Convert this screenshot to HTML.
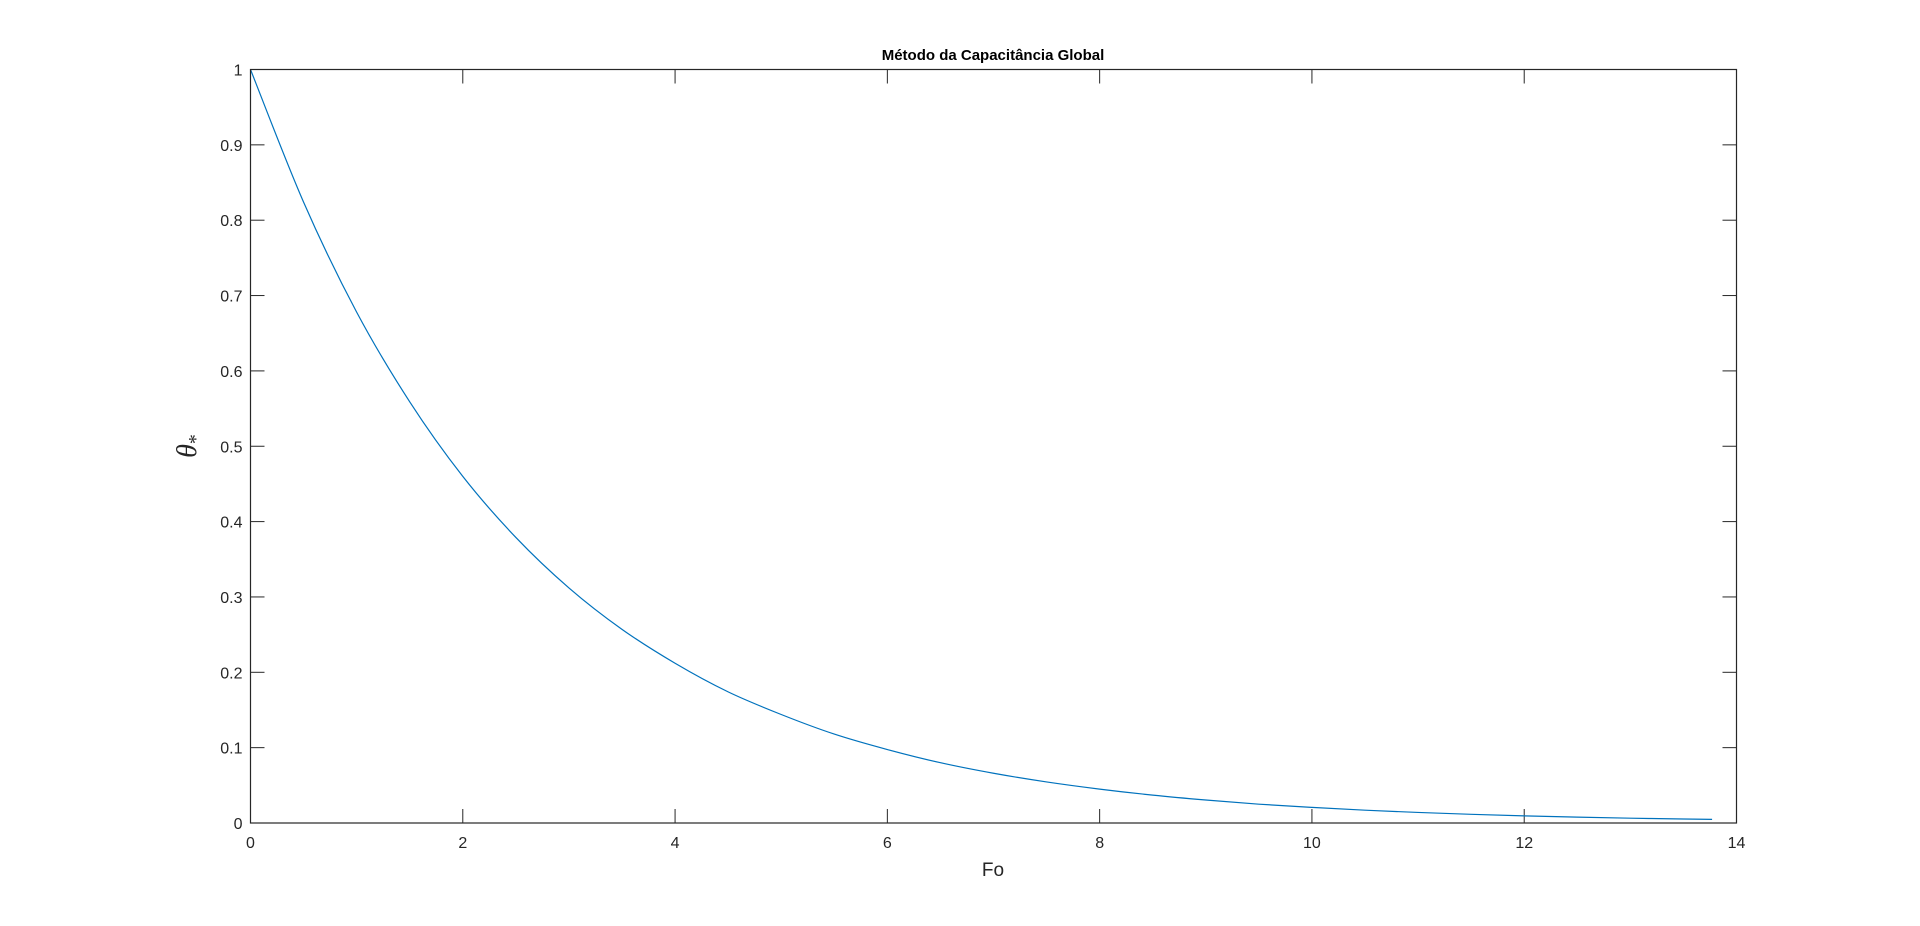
<!DOCTYPE html>
<html><head><meta charset="utf-8"><style>
html,body{margin:0;padding:0;background:#fff;}
svg{display:block;font-family:"Liberation Sans",Arial,sans-serif;}
</style></head><body>
<svg id="chart" width="1920" height="926" viewBox="0 0 1920 926">
<rect x="0" y="0" width="1920" height="926" fill="#fff"/>
<text x="993" y="60" text-anchor="middle" font-size="15" font-weight="bold" fill="#000">Método da Capacitância Global</text>
<g id="ticks"></g>
<path id="curve" fill="none" stroke="#0072BD" stroke-width="1.2"/>
<rect x="250.5" y="69.5" width="1486" height="753.5" fill="none" stroke="#262626" stroke-width="1.2"/>
<text x="993" y="876" text-anchor="middle" font-size="19" fill="#262626">Fo</text>
<g transform="translate(196,446) rotate(-90)">
<text x="0" y="0" text-anchor="middle" font-family="Liberation Serif,serif" font-style="italic" font-size="28" fill="#262626">θ<tspan font-size="20" font-style="normal" dy="6">*</tspan></text>
</g>
</svg>
<script>
const fo = [0,0.5,1,1.5,2,2.5,3,3.5,4,4.5,5,5.5,6,6.5,7,7.5,8,8.5,9,9.5,10,10.5,11,11.5,12,12.5,13,13.5,13.77];
const theta = [1,0.824,0.678,0.559,0.460,0.379,0.312,0.257,0.212,0.174,0.144,0.118,0.0975,0.080,0.066,0.0545,0.045,0.037,0.0305,0.025,0.0207,0.017,0.014,0.0115,0.0095,0.0078,0.0064,0.0053,0.0048];
const xTicks = [0,2,4,6,8,10,12,14];
const yTicks = [0,0.1,0.2,0.3,0.4,0.5,0.6,0.7,0.8,0.9,1];
const yTickLabels = ["0","0.1","0.2","0.3","0.4","0.5","0.6","0.7","0.8","0.9","1"];
const X0=250.5,X1=1736.5,Y0=823,Y1=69.5;
const sx=v=>X0+(v-0)/(14-0)*(X1-X0);
const sy=v=>Y0-(v-0)/(1-0)*(Y0-Y1);
const NS="http://www.w3.org/2000/svg";
const g=document.getElementById('ticks');
function mk(tag,attrs){const e=document.createElementNS(NS,tag);for(const k in attrs)e.setAttribute(k,attrs[k]);return e;}
xTicks.forEach(t=>{
  const x=sx(t);
  const l1=mk('line',{x1:x,x2:x,y1:Y0,y2:Y0-14,stroke:'#262626','stroke-width':1});
  
  
  g.appendChild(l1);
  const l2=mk('line',{x1:x,x2:x,y1:Y1,y2:Y1+14,stroke:'#262626','stroke-width':1});
  
  
  g.appendChild(l2);
  const tx=mk('text',{x:x,y:Y0+25,'text-anchor':'middle','font-size':16,fill:'#262626'});
  tx.textContent=String(t);
  
  
  g.appendChild(tx);
});
yTicks.forEach((t,i)=>{
  const y=sy(t);
  const l1=mk('line',{x1:X0,x2:X0+14,y1:y,y2:y,stroke:'#262626','stroke-width':1});
  
  
  g.appendChild(l1);
  const l2=mk('line',{x1:X1,x2:X1-14,y1:y,y2:y,stroke:'#262626','stroke-width':1});
  
  
  g.appendChild(l2);
  const tx=mk('text',{x:X0-8,y:y+6,'text-anchor':'end','font-size':16,fill:'#262626'});
  tx.textContent=yTickLabels[i];
  
  
  g.appendChild(tx);
});
const pts=fo.map((f,i)=>[sx(f),sy(theta[i])]);
let d='M'+pts[0][0]+','+pts[0][1];
for(let i=0;i<pts.length-1;i++){
  const p0=pts[Math.max(0,i-1)],p1=pts[i],p2=pts[i+1],p3=pts[Math.min(pts.length-1,i+2)];
  const c1=[p1[0]+(p2[0]-p0[0])/6,p1[1]+(p2[1]-p0[1])/6];
  const c2=[p2[0]-(p3[0]-p1[0])/6,p2[1]-(p3[1]-p1[1])/6];
  d+=' C'+c1[0]+','+c1[1]+' '+c2[0]+','+c2[1]+' '+p2[0]+','+p2[1];
}
document.getElementById('curve').setAttribute('d',d);
</script>
</body></html>
